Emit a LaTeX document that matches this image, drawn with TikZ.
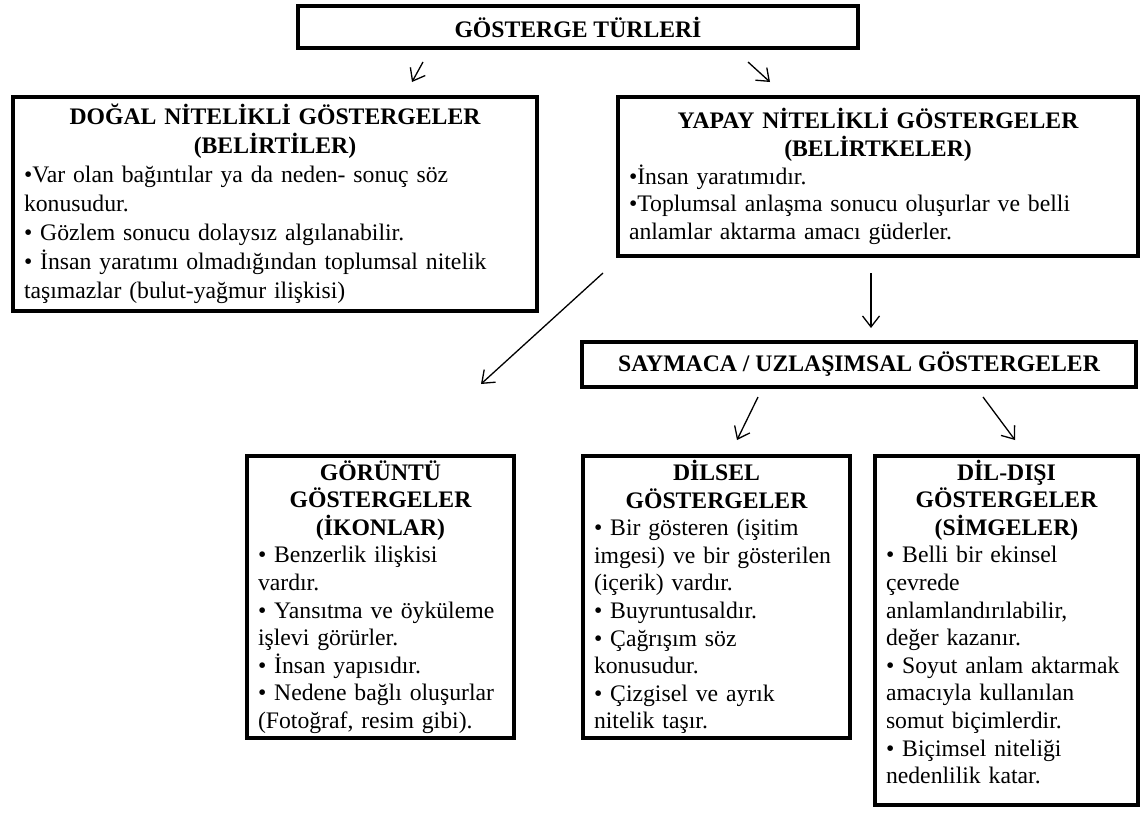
\documentclass[tikz,border=0pt]{standalone}
\usepackage{fontspec}
\setmainfont{Liberation Serif}
\usetikzlibrary{arrows.meta}
\newcommand\gtext{\fontsize{23.7}{27.6}\selectfont}
\newcommand\utext{\fontsize{23.7}{29}\selectfont}
\tikzset{
	kutu/.style={draw, line width=4pt, anchor=north west, align=left, inner xsep=11pt, inner ysep=2pt},
	baslik/.style={draw, line width=4pt, font=\gtext\bfseries, minimum height=42pt},
	ok/.style={line width=1.3pt, -{Straight Barb[length=11pt,width=17pt]}}
}

\begin{document}
\begin{tikzpicture}[x=1pt, y=-1pt]
	\useasboundingbox (0,0) rectangle (1142,814);
	
	\node[baslik, minimum width=560pt] (turler) at (578,27) {GÖSTERGE TÜRLERİ};
	
	\node[kutu, font=\utext, text width=502pt, minimum height=214pt] (dogal) at (11,95) {{\centering\bfseries DOĞAL NİTELİKLİ GÖSTERGELER\\(BELİRTİLER)\par}
		•Var olan bağıntılar ya da neden- sonuç söz\\konusudur.\\• Gözlem sonucu dolaysız algılanabilir.\\• İnsan yaratımı olmadığından toplumsal nitelik\\taşımazlar (bulut-yağmur ilişkisi)};
	
	\node[kutu, font=\gtext, text width=498pt, minimum height=159pt] (yapay) at (616,95) {{\centering\bfseries YAPAY NİTELİKLİ GÖSTERGELER\\(BELİRTKELER)\par}
		•İnsan yaratımıdır.\\•Toplumsal anlaşma sonucu oluşurlar ve belli\\anlamlar aktarma amacı güderler.};
	
	\node[baslik, minimum width=554pt, minimum height=45pt] (saymaca) at (859,364.5) {SAYMACA / UZLAŞIMSAL GÖSTERGELER};
	
	\node[kutu, font=\gtext, text width=245pt, minimum height=282pt] (goruntu) at (245,454) {{\centering\bfseries GÖRÜNTÜ\\GÖSTERGELER\\(İKONLAR)\par}
		• Benzerlik ilişkisi\\vardır.\\• Yansıtma ve öyküleme\\işlevi görürler.\\• İnsan yapısıdır.\\• Nedene bağlı oluşurlar\\(Fotoğraf, resim gibi).};
	
	\node[kutu, font=\gtext, text width=245pt, minimum height=282pt] (dilsel) at (581,454) {{\centering\bfseries DİLSEL\\GÖSTERGELER\par}
		• Bir gösteren (işitim\\imgesi) ve bir gösterilen\\(içerik) vardır.\\• Buyruntusaldır.\\• Çağrışım söz\\konusudur.\\• Çizgisel ve ayrık\\nitelik taşır.};
	
	\node[kutu, font=\gtext, text width=241pt, minimum height=349pt] (didisi) at (873,454) {{\centering\bfseries DİL-DIŞI\\GÖSTERGELER\\(SİMGELER)\par}
		• Belli bir ekinsel\\çevrede\\anlamlandırılabilir,\\değer kazanır.\\• Soyut anlam aktarmak\\amacıyla kullanılan\\somut biçimlerdir.\\• Biçimsel niteliği\\nedenlilik katar.\\[-10pt]\mbox{}};
	
	% oklar
	\coordinate (o1a) at (423,62);   \coordinate (o1b) at (412,82);
	\coordinate (o2a) at (748,62);   \coordinate (o2b) at (770,82);
	\coordinate (o3a) at (871,273);  \coordinate (o3b) at (871,328);
	\coordinate (o4a) at (603,273);  \coordinate (o4b) at (481,384);
	\coordinate (o5a) at (758,397);  \coordinate (o5b) at (737,440);
	\coordinate (o6a) at (983,397);  \coordinate (o6b) at (1015,440);
	\draw[ok] (o1a) -- (o1b);
	\draw[ok] (o2a) -- (o2b);
	\draw[ok] (o3a) -- (o3b);
	\draw[ok] (o4a) -- (o4b);
	\draw[ok] (o5a) -- (o5b);
	\draw[ok] (o6a) -- (o6b);
\end{tikzpicture}
\end{document}
